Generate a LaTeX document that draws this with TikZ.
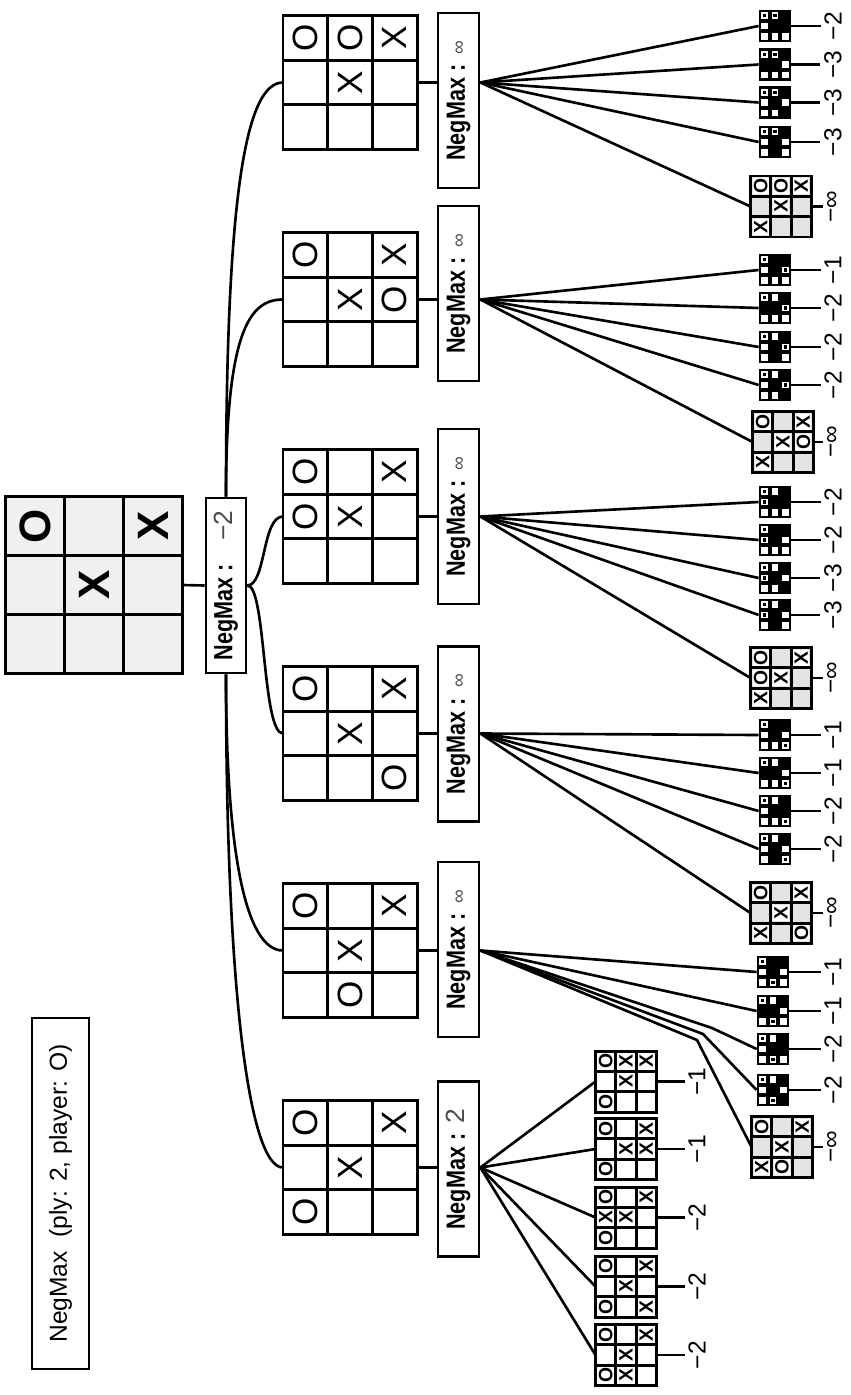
\documentclass[tikz,border=0pt]{standalone}
\usepackage{fontspec}
\setmainfont{Liberation Sans}
\setsansfont{Liberation Sans}
\usetikzlibrary{calc}

\tikzset{
  lin/.style={line width=1.5pt},
  brd/.style={draw, line width=1.7pt, inner sep=0pt, outer sep=0pt},
  brdline/.style={line width=1.7pt},
  caja/.style={draw, line width=1.6pt, fill=white, inner sep=0pt, minimum width=41*0.02cm, minimum height=175*0.02cm},
  marcaraiz/.style={inner sep=0pt, font=\bfseries\fontsize{25}{25}\selectfont},
  marca/.style={inner sep=0pt, font=\fontsize{20}{20}\selectfont},
  marcachica/.style={inner sep=0pt, font=\bfseries\fontsize{11}{11}\selectfont},
  marcagris/.style={marcachica, fill=white, minimum size=16*0.02cm},
  negra/.style={fill=black, draw=black, line width=1pt, inner sep=0pt, minimum size=31*0.02cm},
  hueco/.style={fill=white, inner sep=0pt, minimum size=6.5*0.02cm},
  ohueco/.style={draw=white, fill=black, line width=1.1pt, inner sep=0pt, minimum size=5*0.02cm},
  valor/.style={inner sep=2pt, font=\fontsize{14}{16}\selectfont},
}

% tablero: nombre, x, y, lado, relleno, estilo de marca, marcas
\newcommand{\tablero}[7]{%
  \node[brd, fill=#5, minimum size=#4*0.02cm] (#1) at (#2,#3) {};
  \foreach \cx/\ry/\mk [count=\i] in {#7}
    \node[#6] (#1-\i) at ({#2-#4/2+(\cx+0.5)*#4/3},{#3-#4/2+(\ry+0.5)*#4/3}) {\rotatebox{90}{\mk}};
  \foreach \k in {1,2} {
    \draw[brdline] ($(#1.north west)!\k/3!(#1.north east)$) -- ($(#1.south west)!\k/3!(#1.south east)$);
    \draw[brdline] ($(#1.north west)!\k/3!(#1.south west)$) -- ($(#1.north east)!\k/3!(#1.south east)$);
  }
  \draw[brdline] (#1.north west) rectangle (#1.south east);
}

% hoja negra: nombre, x, y, valor, casillas vacias, casillas con O
\newcommand{\hoja}[6]{%
  \node[negra] (#1) at (#2,#3) {};
  \foreach \cx/\ry in {#5}
    \node[hueco] (#1-\cx\ry) at ({#2-31/2+(\cx+0.5)*31/3},{#3-31/2+(\ry+0.5)*31/3}) {};
  \foreach \cx/\ry in {#6}
    \node[ohueco] (#1-\cx\ry) at ({#2-31/2+(\cx+0.5)*31/3},{#3-31/2+(\ry+0.5)*31/3}) {};
  \node[valor] (#1v) at (833,#3) {\rotatebox{90}{#4}};
  \draw[lin] (#1.east) -- (#1v.west);
}

\newcommand{\nm}[1]{\rotatebox{90}{\fontsize{15}{17}\selectfont\scalebox{0.82}[1]{\bfseries NegMax :}\hspace{0.4em}#1}}

\begin{document}
\begin{tikzpicture}[x=0.02cm, y=-0.02cm]
  \fill[white] (0,0) rectangle (851,1395);
  \useasboundingbox (0,0) rectangle (851,1395);

  % Leyenda
  \node[draw, line width=1.5pt, inner sep=0pt, minimum width=57*0.02cm, minimum height=351*0.02cm] (leyenda) at (60.5,1193.5)
    {\rotatebox{90}{\fontsize{14}{16}\selectfont NegMax\ \ (ply: 2, player: O)}};

  % Tablero inicial
  \tablero{r0}{94}{585}{177}{gray!12}{marcaraiz}{0/0/O, 2/0/X, 1/1/X}
  \node[caja, minimum width=40*0.02cm] (rv) at (226,585.5) {\nm{\hspace{0.5em}{\color{black!70}−2}}};
  \draw[lin] (r0.east) -- (rv.west);

  % Jugadas de O
  \tablero{c1}{350}{82.5}{134}{white}{marca}{0/0/O, 1/0/O, 2/0/X, 1/1/X}
  \tablero{c2}{350}{299.5}{134}{white}{marca}{0/0/O, 2/0/X, 1/1/X, 2/1/O}
  \tablero{c3}{350}{516.5}{134}{white}{marca}{0/0/O, 2/0/X, 0/1/O, 1/1/X}
  \tablero{c4}{350}{733.5}{134}{white}{marca}{0/0/O, 2/0/X, 1/1/X, 2/2/O}
  \tablero{c5}{350}{950.5}{134}{white}{marca}{0/0/O, 2/0/X, 1/1/X, 1/2/O}
  \tablero{c6}{350}{1167.5}{134}{white}{marca}{0/0/O, 2/0/X, 1/1/X, 0/2/O}

  \node[caja] (b1) at (458.5,100.5) {\nm{{\color{black!70}\fontsize{11}{11}\selectfont ∞}}};
  \node[caja] (b2) at (458.5,293.5) {\nm{{\color{black!70}\fontsize{11}{11}\selectfont ∞}}};
  \node[caja] (b3) at (458.5,516.5) {\nm{{\color{black!70}\fontsize{11}{11}\selectfont ∞}}};
  \node[caja] (b4) at (458.5,734) {\nm{{\color{black!70}\fontsize{11}{11}\selectfont ∞}}};
  \node[caja] (b5) at (458.5,949.5) {\nm{{\color{black!70}\fontsize{11}{11}\selectfont ∞}}};
  \node[caja] (b6) at (458.5,1169) {\nm{{\color{black!70}2}}};

  % Curvas desde la raiz
  \draw[lin] (rv.north) .. controls (226,200) and (245,82.5) .. (c1.west);
  \draw[lin] (rv.north) .. controls (226,330) and (250,299.5) .. (c2.west);
  \draw[lin] (rv.east) .. controls (266,585) and (262,516.5) .. (c3.west);
  \draw[lin] (rv.east) .. controls (266,585) and (262,733.5) .. (c4.west);
  \draw[lin] (rv.south) .. controls (226,850) and (245,950.5) .. (c5.west);
  \draw[lin] (rv.south) .. controls (226,1000) and (250,1167.5) .. (c6.west);

  \foreach \i in {1,...,6} {
    \draw[lin] (c\i.east) -- (c\i.east -| b\i.west);
    \coordinate (f\i) at (b\i.east |- c\i.east);
  }

  % Hojas de c1
  \hoja{h11}{775}{26}{−2}{0/1, 0/2, 1/2, 2/2}{0/0, 1/0}
  \hoja{h12}{775}{64.5}{−3}{2/1, 0/2, 1/2, 2/2}{0/0, 1/0}
  \hoja{h13}{775}{102.5}{−3}{0/1, 2/1, 0/2, 1/2}{0/0, 1/0}
  \hoja{h14}{775}{142}{−3}{0/1, 2/1, 0/2, 2/2}{0/0, 1/0}
  \tablero{h15}{781}{206.5}{61}{gray!22}{marcagris}{0/0/O, 1/0/O, 2/0/X, 1/1/X, 0/2/X}

  % Hojas de c2
  \hoja{h21}{775}{270}{−1}{0/1, 0/2, 1/2, 2/2}{0/0, 2/1}
  \hoja{h22}{775}{308}{−2}{1/0, 0/2, 1/2, 2/2}{0/0, 2/1}
  \hoja{h23}{775}{347}{−2}{1/0, 0/1, 0/2, 2/2}{0/0, 2/1}
  \hoja{h24}{775}{385}{−2}{1/0, 0/1, 0/2, 1/2}{0/0, 2/1}
  \tablero{h25}{783}{442}{61}{gray!22}{marcagris}{0/0/O, 2/0/X, 1/1/X, 2/1/O, 0/2/X}

  % Hojas de c3
  \hoja{h31}{775}{502}{−2}{1/0, 0/2, 1/2, 2/2}{0/0, 0/1}
  \hoja{h32}{775}{540}{−2}{2/1, 0/2, 1/2, 2/2}{0/0, 0/1}
  \hoja{h33}{775}{578}{−3}{1/0, 2/1, 0/2, 1/2}{0/0, 0/1}
  \hoja{h34}{775}{615}{−3}{1/0, 2/1, 0/2, 2/2}{0/0, 0/1}
  \tablero{h35}{781}{678}{61}{gray!22}{marcagris}{0/0/O, 2/0/X, 0/1/O, 1/1/X, 0/2/X}

  % Hojas de c4
  \hoja{h41}{775}{735}{−1}{0/1, 2/1, 0/2, 1/2}{0/0, 2/2}
  \hoja{h42}{775}{773}{−1}{1/0, 2/1, 0/2, 1/2}{0/0, 2/2}
  \hoja{h43}{775}{811}{−2}{1/0, 0/1, 0/2, 1/2}{0/0, 2/2}
  \hoja{h44}{775}{849}{−2}{1/0, 0/1, 2/1, 0/2}{0/0, 2/2}
  \tablero{h45}{781}{913}{61}{gray!22}{marcagris}{0/0/O, 2/0/X, 1/1/X, 2/2/O, 0/2/X}

  % Hojas de c5
  \hoja{h51}{773}{972}{−1}{0/1, 2/1, 0/2, 2/2}{0/0, 1/2}
  \hoja{h52}{773}{1011}{−1}{1/0, 2/1, 0/2, 2/2}{0/0, 1/2}
  \hoja{h53}{773}{1049}{−2}{1/0, 0/1, 0/2, 2/2}{0/0, 1/2}
  \hoja{h54}{773}{1090}{−2}{1/0, 0/1, 2/1, 0/2}{0/0, 1/2}
  \tablero{h55}{782}{1147}{61}{gray!22}{marcagris}{0/0/O, 2/0/X, 1/1/X, 1/2/O, 0/2/X}
  \foreach \h in {h15, h25, h35, h45, h55} {
    \node[valor] (\h v) at (833,0 |- \h.center) {\rotatebox{90}{−∞}};
    \draw[lin] (\h.east) -- (\h v.west);
  }

  % Hojas de c6
  \tablero{h61}{626}{1081.5}{61}{white}{marcachica}{0/0/O, 1/0/X, 2/0/X, 1/1/X, 0/2/O}
  \tablero{h62}{626}{1149}{61}{white}{marcachica}{0/0/O, 2/0/X, 1/1/X, 2/1/X, 0/2/O}
  \tablero{h63}{626}{1217.5}{61}{white}{marcachica}{0/0/O, 2/0/X, 0/1/X, 1/1/X, 0/2/O}
  \tablero{h64}{626}{1286.5}{61}{white}{marcachica}{0/0/O, 2/0/X, 1/1/X, 0/2/O, 2/2/X}
  \tablero{h65}{626}{1355}{61}{white}{marcachica}{0/0/O, 2/0/X, 1/1/X, 0/2/O, 1/2/X}
  \foreach \k/\v in {1/−1, 2/−1, 3/−2, 4/−2, 5/−2} {
    \node[valor] (h6\k v) at (697,0 |- h6\k.center) {\rotatebox{90}{\v}};
    \draw[lin] (h6\k.east) -- (h6\k v.west);
  }

  % Abanicos
  \foreach \i in {1,2,3,4,6}
    \foreach \k in {1,...,5}
      \draw[lin] (f\i) -- (h\i\k.west);
  \draw[lin] (f5) -- (h51.west);
  \draw[lin] (f5) -- (h52.west);
  \draw[lin] (f5) -- (712,1028) -- (h53.west);
  \draw[lin] (f5) -- (703,1034) -- (h54.west);
  \draw[lin] (f5) -- (697,1040) -- (h55.west);
\end{tikzpicture}
\end{document}
